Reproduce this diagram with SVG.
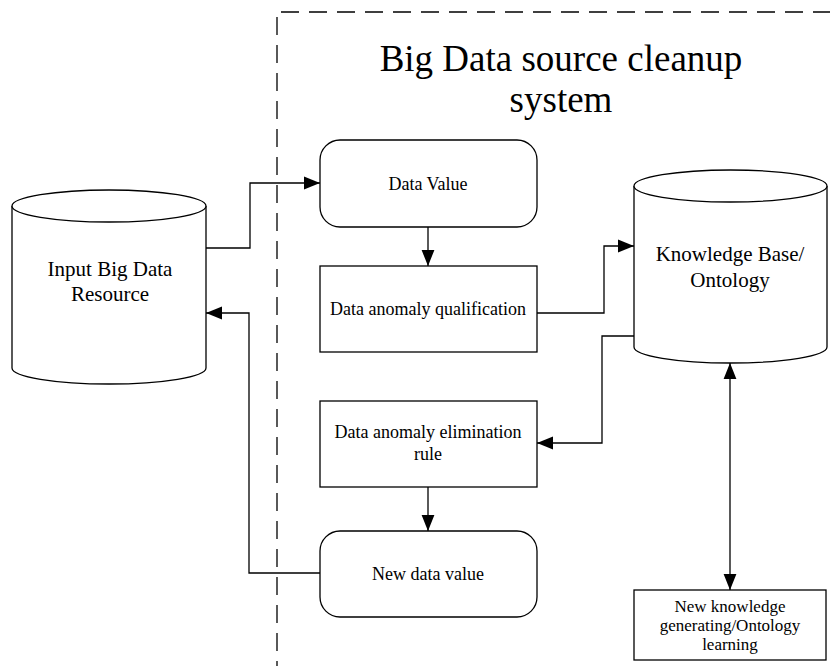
<svg xmlns="http://www.w3.org/2000/svg" width="830" height="666" viewBox="0 0 830 666">
<style>
.s{fill:#fff;stroke:#000;stroke-width:1.3}
.c{fill:none;stroke:#000;stroke-width:1.3}
.t{font-family:"Liberation Serif","Times New Roman",serif;fill:#000;text-anchor:middle}
.d{fill:none;stroke:#000;stroke-width:1.3;stroke-dasharray:18 10}
</style>
<defs>
<marker id="a" viewBox="0 0 10 10" refX="10" refY="5" markerWidth="16" markerHeight="16" markerUnits="userSpaceOnUse" orient="auto-start-reverse">
<path d="M0,1 L10,5 L0,9 Z" fill="#000"/>
</marker>
</defs>
<rect width="830" height="666" fill="#fff"/>
<g id="boundary">
<path class="d" d="M281,12 H830"/>
<path class="d" d="M277,17 V666"/>
<text class="t" x="561" y="71" font-size="37">Big Data source cleanup</text>
<text class="t" x="561" y="112" font-size="37">system</text>
</g>
<g id="input">
<path class="s" d="M12,206 V368 A97,16 0 0 0 206,368 V206"/>
<ellipse class="s" cx="109" cy="206" rx="97" ry="16"/>
<text class="t" x="110" y="276" font-size="21">Input Big Data</text>
<text class="t" x="110" y="301" font-size="21">Resource</text>
</g>
<g id="kb">
<path class="s" d="M634,186 V347 A96.5,16 0 0 0 827,347 V186"/>
<ellipse class="s" cx="730.5" cy="186" rx="96.5" ry="16"/>
<text class="t" x="730" y="261" font-size="21">Knowledge Base/</text>
<text class="t" x="730" y="287" font-size="21">Ontology</text>
</g>
<g id="datavalue">
<rect class="s" x="320" y="140" width="217" height="87" rx="20"/>
<text class="t" x="428" y="190" font-size="18">Data Value</text>
</g>
<g id="qualification">
<rect class="s" x="320" y="266" width="217" height="86"/>
<text class="t" x="428" y="315" font-size="18">Data anomaly qualification</text>
</g>
<g id="elimination">
<rect class="s" x="320" y="401" width="217" height="86"/>
<text class="t" x="428" y="438" font-size="18">Data anomaly elimination</text>
<text class="t" x="428" y="460" font-size="18">rule</text>
</g>
<g id="newvalue">
<rect class="s" x="320" y="531" width="217" height="86" rx="20"/>
<text class="t" x="428" y="580" font-size="18">New data value</text>
</g>
<g id="learning">
<rect class="s" x="634" y="590" width="192" height="70"/>
<text class="t" x="730" y="612" font-size="17">New knowledge</text>
<text class="t" x="730" y="631" font-size="17">generating/Ontology</text>
<text class="t" x="730" y="650" font-size="17">learning</text>
</g>
<g id="connectors">
<path class="c" d="M206,248 H250 V183 H320" marker-end="url(#a)"/>
<path class="c" d="M428,227 V266" marker-end="url(#a)"/>
<path class="c" d="M537,313 H604 V246 H634" marker-end="url(#a)"/>
<path class="c" d="M634,336 H602 V443 H537" marker-end="url(#a)"/>
<path class="c" d="M428,487 V531" marker-end="url(#a)"/>
<path class="c" d="M320,573 H249 V313 H206" marker-end="url(#a)"/>
<path class="c" d="M730,363 V590" marker-start="url(#a)" marker-end="url(#a)"/>
</g>
</svg>
